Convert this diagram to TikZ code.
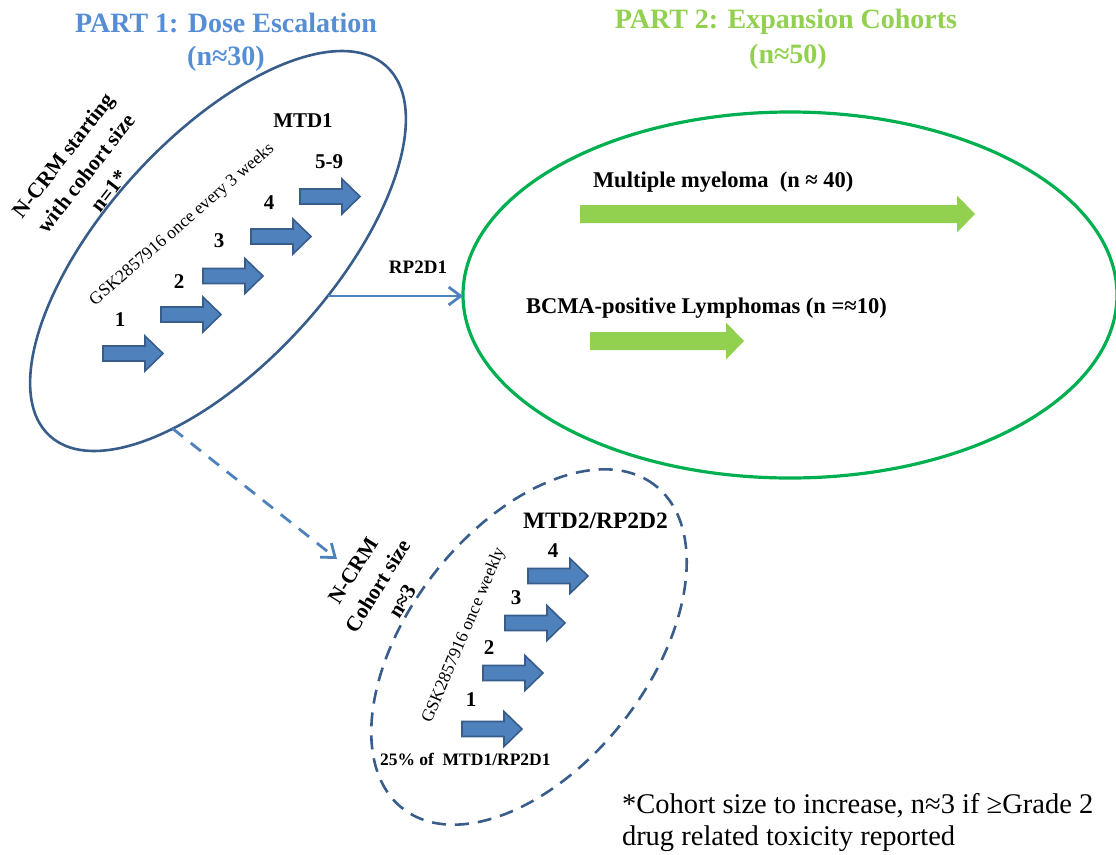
\documentclass[tikz,border=0pt]{standalone}
\usepackage{fontspec}
\setmainfont{Liberation Serif}
\usetikzlibrary{arrows.meta,shapes.geometric}

\definecolor{titleblue}{HTML}{558ED5}
\definecolor{titlegreen}{HTML}{92D050}
\definecolor{ringblue}{HTML}{385D8A}
\definecolor{linkblue}{HTML}{4F81BD}
\definecolor{ringgreen}{HTML}{00B050}
\definecolor{stepfill}{HTML}{4F81BD}
\definecolor{stepedge}{HTML}{385D8A}

\tikzset{
  % blue dose-level block arrow, anchored at its left end
  pics/doseblock/.style={code={
    \filldraw[fill=stepfill, draw=stepedge, line width=1.6pt]
      (0,-7.5) -- (42,-7.5) -- (42,-17.5) -- (60,0) -- (42,17.5) -- (42,7.5) -- (0,7.5) -- cycle;}},
  % green cohort block arrow of given total length
  pics/cohortblock/.style={code={
    \fill[titlegreen]
      (0,-9) -- ({#1-18},-9) -- ({#1-18},-18.5) -- (#1,0) -- ({#1-18},18.5) -- ({#1-18},9) -- (0,9) -- cycle;}},
}

\begin{document}
\begin{tikzpicture}[x=1pt,y=-1pt,
  every node/.style={inner sep=0pt, outer sep=0pt},
  heading/.style={font=\fontsize{28}{32}\selectfont\bfseries, anchor=base},
  steplabel/.style={font=\fontsize{21}{24}\selectfont\bfseries},
  sidenote/.style={font=\fontsize{21.5}{29}\selectfont\bfseries, align=center},
  dosing/.style={font=\fontsize{17.5}{20}\selectfont, anchor=base},
  cohorttext/.style={font=\fontsize{22.5}{26}\selectfont\bfseries, anchor=base west},
  ring/.style={ellipse, draw=ringblue, line width=2.6pt},
  link/.style={draw=linkblue, line width=2.8pt, -{Straight Barb[length=12pt,width=18pt]}},
]
\useasboundingbox (0,0) rectangle (1116,854);

% ---- headings
\node[heading, text=titleblue] (p1title) at (226,32) {PART 1: Dose Escalation};
\node[heading, text=titleblue] (p1n) at (226,65) {(n≈30)};
\node[heading, text=titlegreen] (p2title) at (786,28) {PART 2: Expansion Cohorts};
\node[heading, text=titlegreen] (p2n) at (788,63) {(n≈50)};

% ---- part 1: dose escalation ellipse
\node[ring, minimum width=500pt, minimum height=226pt, rotate=47.7] (dose) at (218,251) {};
\node[sidenote, rotate=52] (startnote) at (86,173) {N-CRM starting\\with cohort size\\n=1*};
\node[dosing, rotate=41] (q3w) at (185,228) {GSK2857916 once every 3 weeks};

\pic at (103,353.5) {doseblock};
\pic at (161,314.5) {doseblock};
\pic at (203,276) {doseblock};
\pic at (251,236.5) {doseblock};
\pic at (300,196.5) {doseblock};
\node[steplabel] (d1) at (120,320) {1};
\node[steplabel] (d2) at (179,282) {2};
\node[steplabel] (d3) at (219,241) {3};
\node[steplabel] (d4) at (269,203) {4};
\node[steplabel] (d59) at (329,162) {5-9};
\node[steplabel] (mtd1) at (303,121) {MTD1};

% ---- part 2: expansion cohorts
\node[ellipse, draw=ringgreen, line width=3.2pt, minimum width=654pt, minimum height=366pt] (expansion) at (790,295) {};
\node[cohorttext] (mm) at (593,187) {Multiple myeloma~~(n ≈ 40)};
\pic at (580,214) {cohortblock=395};
\node[cohorttext] (bcma) at (526,313) {BCMA-positive Lymphomas (n =≈10)};
\pic at (590,341) {cohortblock=154};

% ---- transition to part 2
\node[font=\fontsize{19}{22}\selectfont\bfseries, anchor=base] (rp2d1) at (418,273) {RP2D1};
\draw[link] (dose.290) -- (dose.290 -| expansion.west);

% ---- weekly schedule ellipse
\coordinate (splitend) at (337,559);
\draw[link, dash pattern=on 13pt off 10pt] (dose.208) -- (splitend);
\node[ring, dash pattern=on 14pt off 9pt, minimum width=410pt, minimum height=240pt, rotate=52] (weekly) at (529,647) {};
\node[sidenote, rotate=58] (weeklynote) at (378,586) {N-CRM\\Cohort size\\n≈3};
\node[dosing, rotate=67] (qw) at (468,637) {GSK2857916 once weekly};

\pic at (462,729) {doseblock};
\pic at (483,673) {doseblock};
\pic at (505,623) {doseblock};
\pic at (528,576) {doseblock};
\node[steplabel] (w1) at (471,700) {1};
\node[steplabel] (w2) at (489,648) {2};
\node[steplabel] (w3) at (516,598) {3};
\node[steplabel] (w4) at (553,551) {4};
\node[font=\fontsize{23.5}{26}\selectfont\bfseries, anchor=base west] (mtd2) at (523,528) {MTD2/RP2D2};
\node[font=\fontsize{17.5}{20}\selectfont\bfseries, anchor=base west] (startdose) at (380,765) {25\% of~~MTD1/RP2D1};

% ---- footnote
\node[font=\fontsize{28.5}{32}\selectfont, anchor=base west] (note1) at (622,813) {*Cohort size to increase, n≈3 if ≥Grade 2};
\node[font=\fontsize{28.5}{32}\selectfont, anchor=base west] (note2) at (622,845) {drug related toxicity reported};
\end{tikzpicture}
\end{document}
